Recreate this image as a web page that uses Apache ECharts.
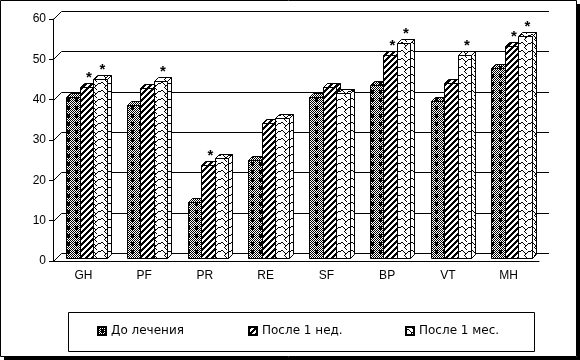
<!DOCTYPE html>
<html><head><meta charset="utf-8">
<script src="https://cdn.jsdelivr.net/npm/echarts@6/dist/echarts.min.js"></script>
<style>html,body{margin:0;padding:0;background:#fff}#c{width:580px;height:360px}</style>
</head><body><div id="c"></div>
<script>
const categories = ['GH','PF','PR','RE','SF','BP','VT','MH'];
const seriesNames = ['До лечения','После 1 нед.','После 1 мес.'];
const before = [40, 38, 14, 24.3, 40, 43, 39, 47];
const week1 = [42.3, 42.2, 23, 33.4, 42.4, 50.3, 43.3, 52.6];
const month1 = [44.5, 44, 24.8, 34.6, 41, 53.2, 50.3, 55.1];
const sigBefore = [0,0,0,0,0,0,0,0];
const sigWeek1 = [1,0,1,0,0,1,0,1];
const sigMonth1 = [1,1,0,0,0,1,1,1];
const yTicks = [0,10,20,30,40,50,60];

function tile(w,h,fn){const c=document.createElement('canvas');c.width=w;c.height=h;const ctx=c.getContext('2d');ctx.fillStyle='#fff';ctx.fillRect(0,0,w,h);ctx.fillStyle='#000';ctx.strokeStyle='#000';fn(ctx);return c;}
const pat1 = tile(8,8,ctx=>{for(let y=0;y<8;y++)for(let x=0;x<8;x++){if((x+y)%2===0)ctx.fillRect(x,y,1,1);} ctx.fillRect(3,2,3,4);});
const pat2 = tile(6,6,ctx=>{for(let y=0;y<6;y++)for(let x=0;x<6;x++){if((x+y)%6<3)ctx.fillRect(x,y,1,1);}});
const pat3 = tile(10,8,ctx=>{const px=[[0,3],[1,2],[2,2],[3,3],[4,4],[5,5],[6,5],[7,4],[8,3],[9,3],[5,6],[4,7],[5,0],[6,1]];px.forEach(p=>ctx.fillRect(p[0],p[1],1,1));});
const patterns = [pat1,pat2,pat3].map(c=>({image:c, repeat:'repeat'}));
const values = [before, week1, month1];
const sigs = [sigBefore, sigWeek1, sigMonth1];
const D = 4, SH = 3;

function makeRender(si){
  return function(params, api){
    const ci = api.value(0), v = api.value(1);
    const base = api.coord([ci, 0]);
    const top = api.coord([ci, v]);
    const bw = api.size([1,0])[0];
    const gw = bw*0.667, w = gw/3;
    const x0 = Math.round(base[0] - gw/2 + si*w + SH) + 0.5;
    const x1 = Math.round(base[0] - gw/2 + (si+1)*w + SH) + 0.5;
    const yb = Math.round(base[1] - SH) + 0.5;
    const yt = Math.round(top[1] - SH) + 0.5;
    const st = {fill: patterns[si], stroke:'#000', lineWidth:1};
    const children = [
      {type:'polygon', shape:{points:[[x1,yt],[x1+D,yt-D],[x1+D,yb-D],[x1,yb]]}, style:st},
      {type:'polygon', shape:{points:[[x0,yt],[x1,yt],[x1+D,yt-D],[x0+D,yt-D]]}, style:st},
      {type:'rect', shape:{x:x0,y:yt,width:x1-x0,height:yb-yt}, style:st}
    ];
    if (sigs[si][ci]) {
      children.push({type:'text', style:{text:'*', x:(x0+x1)/2 + D/2, y: yt - D - 6, align:'center', verticalAlign:'middle', font:'bold 15px "Liberation Sans"', fill:'#000'}});
    }
    return {type:'group', children};
  };
}

const series = [{
  type:'custom', name:'wall', silent:true, z:1,
  data: yTicks.map(v=>[0,v]),
  renderItem:(params, api)=>{
    const cs = params.coordSys;
    const y = Math.round(api.coord([0, api.value(1)])[1]) + 0.5;
    const x = cs.x + 0.5;
    return {type:'polyline', shape:{points:[[x,y],[x+8,y-8],[cs.x+cs.width+10,y-8]]}, style:{stroke:'#000', lineWidth:1, fill:null}};
  }
}];
values.forEach((arr, si)=>{
  series.push({
    type:'custom', name: seriesNames[si], z:2,
    itemStyle:{color: patterns[si], borderColor:'#000', borderWidth:1},
    data: arr.map((v,i)=>[i,v]),
    renderItem: makeRender(si)
  });
});

const chart = echarts.init(document.getElementById('c'), null, {renderer:'canvas'});
chart.setOption({
  animation:false,
  backgroundColor:'#fff',
  grid:{left:53, top:19, width:486, height:242},
  xAxis:{type:'category', data:categories,
    axisLine:{lineStyle:{color:'#000', width:1}},
    axisTick:{length:3, lineStyle:{color:'#000'}},
    axisLabel:{color:'#000', fontFamily:'Liberation Sans', fontSize:12, margin:9},
    splitLine:{show:false}},
  yAxis:{type:'value', min:0, max:60, interval:10,
    axisLine:{show:true, lineStyle:{color:'#000', width:1}},
    axisTick:{show:true, length:4, lineStyle:{color:'#000'}},
    axisLabel:{color:'#000', fontFamily:'Liberation Sans', fontSize:12, margin:7},
    splitLine:{show:false}},
  legend: seriesNames.map((n,i)=>({data:[n], left:[97,248,405][i], top:325, itemWidth:8, itemHeight:8, padding:0, icon:'rect', selectedMode:false,
    textStyle:{fontFamily:'DejaVu Sans', fontSize:12, color:'#000'}})),
  graphic:[
    {type:'rect', shape:{x:0.5,y:0.5,width:576,height:356}, style:{fill:null, stroke:'#000', lineWidth:1}, z:10},
    {type:'rect', shape:{x:577,y:4,width:3,height:356}, style:{fill:'#000'}, z:10},
    {type:'rect', shape:{x:4,y:357,width:576,height:3}, style:{fill:'#000'}, z:10},
    {type:'rect', shape:{x:68.5,y:312.5,width:466,height:39}, style:{fill:null, stroke:'#000', lineWidth:1}, z:10}
  ],
  series
});
</script></body></html>
